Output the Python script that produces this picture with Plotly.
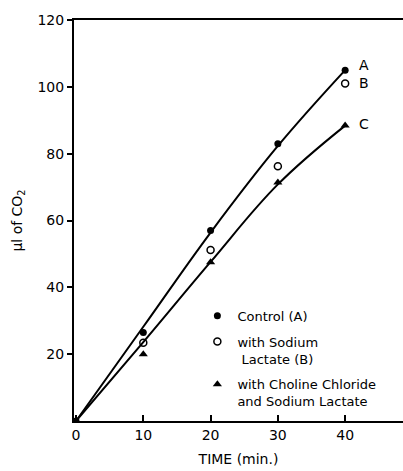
import plotly.graph_objects as go

time_min = [0, 10, 20, 30, 40]
control_A = [0, 26.5, 57, 83, 105]
lactate_B = [0, 23.4, 51.2, 76.2, 101]
choline_C = [0, 20, 47.5, 71.4, 88.4]
# smooth fitted curves drawn in the figure
curve_A = [0, 28.2, 56.4, 82.3, 105]
curve_C = [0, 23.6, 47.6, 70.8, 88.4]
end_labels = ["A", "B", "C"]
end_label_y = [106.5, 101, 89]
y_ticks = [20, 40, 60, 80, 100, 120]
x_ticks = [0, 10, 20, 30, 40]

FONT = "DejaVu Sans"
fig = go.Figure()

fig.add_trace(go.Scatter(x=time_min, y=curve_A, mode="lines", line=dict(color="black", width=2, shape="spline", smoothing=1.1), showlegend=False, hoverinfo="skip"))
fig.add_trace(go.Scatter(x=time_min, y=curve_C, mode="lines", line=dict(color="black", width=2, shape="spline", smoothing=1.1), showlegend=False, hoverinfo="skip"))

fig.add_trace(go.Scatter(x=time_min, y=control_A, mode="markers", name="Control (A)", legendgroup="a",
                         marker=dict(symbol="circle", size=7, color="black")))
fig.add_trace(go.Scatter(x=time_min[1:], y=lactate_B[1:], mode="markers", name="with Sodium<br> Lactate (B)", legendgroup="b",
                         marker=dict(symbol="circle-open", size=7, color="black", line=dict(width=1.5))))
fig.add_trace(go.Scatter(x=time_min[1:], y=choline_C[1:], mode="markers", name="with Choline Chloride<br>and Sodium Lactate", legendgroup="c",
                         marker=dict(symbol="triangle-up", size=8, color="black")))

for lab, ly in zip(end_labels, end_label_y):
    fig.add_annotation(x=41.8, y=ly, text=lab, showarrow=False, xanchor="left", yanchor="middle",
                       font=dict(family=FONT, size=14, color="black"))

fig.update_layout(
    width=403, height=471,
    margin=dict(l=74, r=0, t=20, b=50),
    paper_bgcolor="white", plot_bgcolor="white",
    font=dict(family=FONT, size=14, color="black"),
    legend=dict(x=0.375, y=0.30, xanchor="left", yanchor="top", bgcolor="rgba(0,0,0,0)",
                font=dict(family=FONT, size=13, color="black"), valign="top",
                tracegroupgap=6, itemwidth=30),
    xaxis=dict(range=[-0.3, 48.6], tickvals=x_ticks, ticks="inside", ticklen=6,
               tickwidth=1.5, tickcolor="black", showline=True, linecolor="black", linewidth=2,
               mirror=True, showgrid=False, zeroline=False,
               title=dict(text="TIME (min.)", standoff=12, font=dict(size=14))),
    yaxis=dict(range=[0, 120], tickvals=y_ticks, ticks="outside", ticklen=5,
               tickwidth=1.5, tickcolor="black", showline=True, linecolor="black", linewidth=2,
               showgrid=False, zeroline=False,
               title=dict(text="μl of CO<sub>2</sub>", standoff=12, font=dict(size=14))),
)

fig.write_html("out.html")
